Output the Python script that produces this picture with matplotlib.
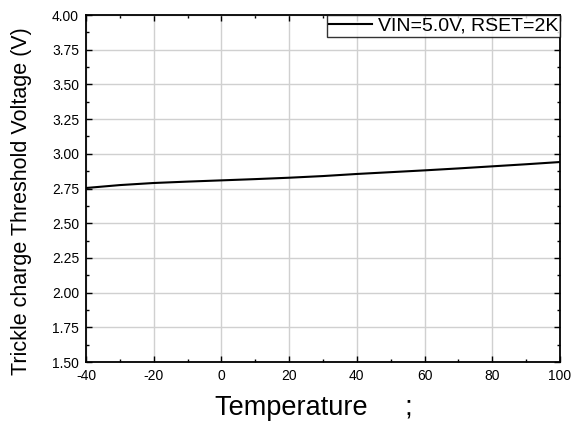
import numpy as np
import matplotlib
matplotlib.use('Agg')
import matplotlib.pyplot as plt
from matplotlib.ticker import MultipleLocator

plt.rcParams['font.family'] = ['Liberation Sans', 'DejaVu Sans']
plt.rcParams['axes.unicode_minus'] = False

# data
temp = [-40, -30, -20, -10, 0, 10, 20, 30, 40, 50, 60, 70, 80, 90, 100]
vth = [2.754, 2.775, 2.790, 2.800, 2.809, 2.818, 2.828, 2.840, 2.855, 2.868, 2.881, 2.895, 2.910, 2.925, 2.941]

fig = plt.figure(figsize=(5.83, 4.25), dpi=100)
ax = fig.add_axes([0.1475, 0.148, 0.813, 0.8167])

ax.plot(temp, vth, color='black', lw=1.5, label='VIN=5.0V, RSET=2K')

ax.set_xlim(-40, 100)
ax.set_ylim(1.5, 4.0)
ax.xaxis.set_major_locator(MultipleLocator(20))
ax.xaxis.set_minor_locator(MultipleLocator(10))
ax.yaxis.set_major_locator(MultipleLocator(0.25))
ax.yaxis.set_minor_locator(MultipleLocator(0.125))
ax.yaxis.set_major_formatter(plt.FormatStrFormatter('%.2f'))

ax.grid(True, which='major', color='#d0d0d0', lw=1)
ax.set_axisbelow(True)
ax.tick_params(which='both', direction='in', top=True, right=True, labelsize=10, pad=5)
ax.tick_params(which='major', length=4, width=1)
ax.tick_params(which='minor', length=2, width=1)
for s in ax.spines.values():
    s.set_linewidth(1.3)

ax.set_xlabel('Temperature     ;', fontsize=19.5)
ax.xaxis.set_label_coords(0.481, -0.094)
ax.set_ylabel('Trickle charge Threshold Voltage (V)', fontsize=15.5)
ax.yaxis.set_label_coords(-0.114, 0.465)

leg = ax.legend(loc='upper right', fontsize=14, frameon=True, fancybox=False,
                borderaxespad=0, handlelength=2.2, borderpad=0.1, handletextpad=0.3)
leg.get_frame().set_edgecolor('black')
leg.get_frame().set_linewidth(1)

fig.savefig('out.png', dpi=100)
